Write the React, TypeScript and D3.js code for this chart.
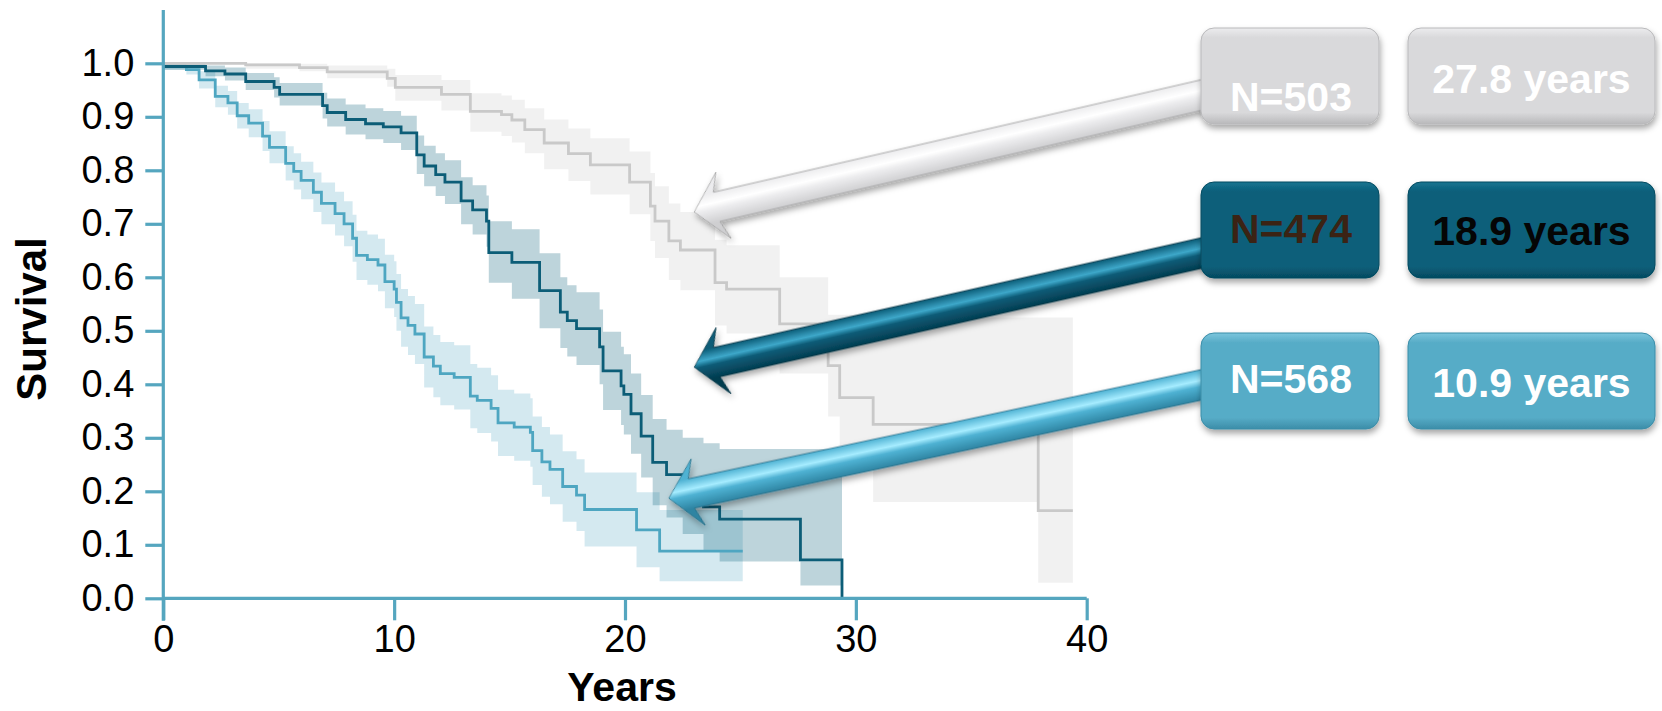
import * as d3 from "d3";
import React, { useEffect, useRef } from "react";

// survival curves (years, survival fraction, 95% band)
const grayTimes = [0, 3.57, 5.9, 7.1, 9.7, 10.05, 12.05, 13.3, 14.65, 15.1, 15.66, 16.5, 17.55, 18.5, 20.2, 21.1, 21.3, 21.9, 22.4, 23.9, 24.4, 26.7, 28.8, 29.3, 30.75, 37.9, 39.4];
const graySurv = [1.0, 0.997, 0.992, 0.984, 0.972, 0.955, 0.942, 0.91, 0.904, 0.894, 0.876, 0.851, 0.831, 0.81, 0.778, 0.733, 0.705, 0.668, 0.651, 0.59, 0.578, 0.513, 0.435, 0.375, 0.325, 0.164, 0.164];
const grayUpper = [1.0, 1.0, 0.999, 0.996, 0.99, 0.978, 0.969, 0.944, 0.94, 0.932, 0.916, 0.895, 0.878, 0.86, 0.835, 0.795, 0.77, 0.738, 0.722, 0.67, 0.66, 0.6, 0.53, 0.53, 0.525, 0.525, 0.525];
const grayLower = [0.998, 0.99, 0.985, 0.972, 0.956, 0.93, 0.912, 0.872, 0.864, 0.852, 0.832, 0.802, 0.78, 0.755, 0.718, 0.668, 0.636, 0.595, 0.576, 0.51, 0.495, 0.42, 0.34, 0.285, 0.18, 0.029, 0.029];

const darkTimes = [0, 1.83, 2.67, 3.57, 4.8, 5.04, 6.9, 7.1, 7.9, 8.76, 9.53, 10.3, 10.98, 11.3, 11.8, 12.2, 12.9, 13.4, 14.0, 14.1, 15.1, 16.3, 17.2, 17.5, 17.9, 18.9, 19.05, 19.83, 19.95, 20.26, 20.7, 21.2, 21.8, 22.5, 23.4, 24.1, 27.6, 29.4];
const darkSurv = [0.994, 0.986, 0.98, 0.966, 0.955, 0.942, 0.921, 0.908, 0.895, 0.887, 0.881, 0.87, 0.829, 0.808, 0.792, 0.778, 0.743, 0.726, 0.705, 0.646, 0.628, 0.575, 0.535, 0.519, 0.504, 0.47, 0.425, 0.397, 0.381, 0.345, 0.303, 0.254, 0.231, 0.2, 0.171, 0.148, 0.072, 0.0];
const darkUpper = [1.0, 0.996, 0.992, 0.982, 0.974, 0.963, 0.945, 0.934, 0.923, 0.916, 0.911, 0.902, 0.865, 0.846, 0.832, 0.819, 0.787, 0.772, 0.753, 0.705, 0.69, 0.645, 0.6, 0.585, 0.572, 0.54, 0.498, 0.47, 0.456, 0.42, 0.38, 0.335, 0.315, 0.3, 0.29, 0.279, 0.279, 0.279];
const darkLower = [0.988, 0.976, 0.968, 0.95, 0.936, 0.921, 0.897, 0.882, 0.867, 0.858, 0.851, 0.838, 0.793, 0.77, 0.752, 0.737, 0.699, 0.68, 0.657, 0.59, 0.56, 0.505, 0.468, 0.452, 0.436, 0.4, 0.352, 0.324, 0.306, 0.27, 0.226, 0.174, 0.151, 0.12, 0.09, 0.069, 0.024, 0.024];

const lightTimes = [0, 1.0, 1.55, 2.25, 2.8, 3.2, 3.7, 4.3, 4.6, 5.3, 5.65, 5.97, 6.5, 6.85, 7.44, 7.83, 8.2, 8.37, 8.84, 9.3, 9.6, 10.0, 10.1, 10.3, 10.6, 10.9, 11.3, 11.7, 12.0, 12.6, 13.3, 13.6, 14.2, 14.5, 15.2, 15.9, 16.0, 16.4, 16.75, 17.3, 17.9, 18.25, 20.5, 21.5, 25.1];
const lightSurv = [0.994, 0.988, 0.969, 0.938, 0.926, 0.902, 0.888, 0.864, 0.843, 0.813, 0.798, 0.781, 0.759, 0.738, 0.719, 0.7, 0.673, 0.641, 0.633, 0.623, 0.592, 0.578, 0.553, 0.524, 0.51, 0.494, 0.451, 0.434, 0.42, 0.413, 0.378, 0.37, 0.355, 0.328, 0.32, 0.31, 0.276, 0.255, 0.241, 0.209, 0.193, 0.166, 0.128, 0.088, 0.088];
const lightUpper = [1.0, 0.997, 0.985, 0.958, 0.948, 0.926, 0.914, 0.892, 0.873, 0.845, 0.832, 0.816, 0.796, 0.777, 0.76, 0.742, 0.717, 0.687, 0.68, 0.672, 0.642, 0.63, 0.606, 0.578, 0.565, 0.55, 0.508, 0.492, 0.479, 0.473, 0.438, 0.431, 0.417, 0.39, 0.383, 0.374, 0.34, 0.32, 0.306, 0.275, 0.26, 0.235, 0.198, 0.165, 0.165];
const lightLower = [0.988, 0.979, 0.953, 0.918, 0.904, 0.878, 0.862, 0.836, 0.813, 0.781, 0.764, 0.746, 0.722, 0.699, 0.678, 0.658, 0.629, 0.595, 0.586, 0.574, 0.542, 0.526, 0.5, 0.47, 0.455, 0.438, 0.394, 0.376, 0.361, 0.353, 0.318, 0.309, 0.293, 0.266, 0.257, 0.246, 0.212, 0.19, 0.176, 0.143, 0.126, 0.097, 0.058, 0.032, 0.032];

const groupLabels = ["N=503", "N=474", "N=568"];
const medianLabels = ["27.8 years", "18.9 years", "10.9 years"];
const xTickValues = [0, 10, 20, 30, 40];
const yTickValues = [0, 0.1, 0.2, 0.3, 0.4, 0.5, 0.6, 0.7, 0.8, 0.9, 1.0];

// where each arrow points to (years, survival)
const arrowTipT = [23.0, 23.0, 21.9];
const arrowTipS = [0.722, 0.432, 0.187];

const font = "'Liberation Sans', Arial, sans-serif";
const axisColor = "#55a6bf";

const series = [
  { times: grayTimes, surv: graySurv, upper: grayUpper, lower: grayLower, line: "#c9c9c9", band: "rgba(200,200,200,0.26)" },
  { times: lightTimes, surv: lightSurv, upper: lightUpper, lower: lightLower, line: "#4ea6c1", band: "rgba(74,163,191,0.24)" },
  { times: darkTimes, surv: darkSurv, upper: darkUpper, lower: darkLower, line: "#0c5d77", band: "rgba(11,95,122,0.27)" },
];

// box and arrow styling for the three groups (gray, dark, light)
const boxStyles = [
  { top: "#ececee", base: "#d9d9db", bottom: "#b9b9bb", nText: "#ffffff", mText: "#ffffff" },
  { top: "#187591", base: "#0a5f7a", bottom: "#054a60", nText: "#3b2314", mText: "#050505" },
  { top: "#7cc6dd", base: "#57acc7", bottom: "#3b8da8", nText: "#ffffff", mText: "#ffffff" },
];
const arrowStyles = [
  { a: "#ececee", hi: "#ffffff", b: "#cfcfd1", edge: "#9a9a9a" },
  { a: "#0a5c77", hi: "#3ea7c9", b: "#053c50", edge: "#043140" },
  { a: "#4fb2d3", hi: "#a6ecff", b: "#2e84a2", edge: "#256d86" },
];
const rowTops = [28, 182, 333];
const tailY = [92, 250, 382];

function App() {
  const width = 1662;
  const height = 711;
  const xAxisRef = useRef(null);
  const yAxisRef = useRef(null);

  const xScale = d3.scaleLinear().domain([0, 40]).range([163.3, 1086.7]);
  const yScale = d3.scaleLinear().domain([0, 1]).range([598.3, 63.3]);

  useEffect(() => {
    const gy = d3.select(yAxisRef.current);
    gy.call(
      d3.axisLeft(yScale).tickValues(yTickValues).tickFormat(d3.format(".1f")).tickSize(18).tickPadding(11)
    );
    gy.select(".domain").remove();
    gy.selectAll("line").attr("stroke", axisColor).attr("stroke-width", 3.2);
    gy.selectAll("text").attr("font-size", 38).attr("font-family", font).attr("fill", "#000");

    const gx = d3.select(xAxisRef.current);
    gx.call(d3.axisBottom(xScale).tickValues(xTickValues).tickSize(22).tickPadding(5));
    gx.select(".domain").remove();
    gx.selectAll("line").attr("stroke", axisColor).attr("stroke-width", 3.2);
    gx.selectAll("text").attr("font-size", 38).attr("font-family", font).attr("fill", "#000");
  }, []);

  const makeLine = (s) =>
    d3
      .line<number>()
      .x((d, i) => xScale(s.times[i]))
      .y((d) => yScale(d))
      .curve(d3.curveStepAfter)(s.surv);

  const makeBand = (s) =>
    d3
      .area<number>()
      .x((d, i) => xScale(s.times[i]))
      .y0((d, i) => yScale(s.lower[i]))
      .y1((d, i) => yScale(s.upper[i]))
      .curve(d3.curveStepAfter)(s.surv);

  const boxX1 = 1201;
  const boxW1 = 178;
  const boxX2 = 1408;
  const boxW2 = 247;
  const boxH = 96;

  return (
    <svg
      width={width}
      height={height}
      style={{ position: "absolute", left: 0, top: 0, background: "#fff" }}
    >
      <defs>
        <filter id="shadow" x="-10%" y="-20%" width="130%" height="160%">
          <feDropShadow dx="1" dy="4" stdDeviation="3" floodColor="#000" floodOpacity="0.35" />
        </filter>
        {boxStyles.map((b, i) => (
          <linearGradient key={"bg" + i} id={"box" + i} x1="0" y1="0" x2="0" y2="1">
            <stop offset="0" stopColor={b.top} />
            <stop offset="0.1" stopColor={b.base} />
            <stop offset="0.88" stopColor={b.base} />
            <stop offset="1" stopColor={b.bottom} />
          </linearGradient>
        ))}
        {arrowStyles.map((a, i) => (
          <linearGradient key={"ag" + i} id={"arrow" + i} gradientUnits="userSpaceOnUse" x1="0" y1="-15" x2="0" y2="15">
            <stop offset="0" stopColor={a.a} />
            <stop offset="0.35" stopColor={a.hi} />
            <stop offset="0.55" stopColor={a.a} />
            <stop offset="1" stopColor={a.b} />
          </linearGradient>
        ))}
      </defs>

      {/* confidence bands */}
      {series.map((s, i) => (
        <path key={"band" + i} d={makeBand(s)} fill={s.band} stroke="none" />
      ))}
      {/* survival curves */}
      {series.map((s, i) => (
        <path key={"line" + i} d={makeLine(s)} fill="none" stroke={s.line} strokeWidth={2.8} />
      ))}

      {/* axes */}
      <line x1={163.3} x2={163.3} y1={10} y2={620.7} stroke={axisColor} strokeWidth={3.2} />
      <line x1={163.3} x2={1086.7} y1={598.3} y2={598.3} stroke={axisColor} strokeWidth={3.2} />
      <g ref={yAxisRef} transform="translate(163.3,0)" />
      <g ref={xAxisRef} transform="translate(0,598.3)" />

      <text x={622} y={701} textAnchor="middle" fontFamily={font} fontWeight="bold" fontSize={41}>
        Years
      </text>
      <text
        transform="translate(46,319) rotate(-90)"
        textAnchor="middle"
        fontFamily={font}
        fontWeight="bold"
        fontSize={42}
      >
        Survival
      </text>

      {/* arrows */}
      {arrowTipT.map((t, i) => {
        const tx = xScale(t);
        const ty = yScale(arrowTipS[i]);
        const ex = boxX1 + 14;
        const ey = tailY[i];
        const len = Math.hypot(ex - tx, ey - ty);
        const ang = (Math.atan2(ey - ty, ex - tx) * 180) / Math.PI;
        const d = `M0,0 L30,-34 L23,-15 L${len},-15 L${len},15 L23,15 L30,34 Z`;
        return (
          <g key={"arr" + i} transform={`translate(${tx},${ty}) rotate(${ang})`} filter="url(#shadow)">
            <path d={d} fill={`url(#arrow${i})`} stroke={arrowStyles[i].edge} strokeWidth={0.8} />
          </g>
        );
      })}

      {/* label boxes */}
      {groupLabels.map((lab, i) => (
        <g key={"box" + i}>
          <rect
            x={boxX1}
            y={rowTops[i]}
            width={boxW1}
            height={boxH}
            rx={13}
            fill={`url(#box${i})`}
            stroke={boxStyles[i].bottom}
            strokeWidth={1}
            filter="url(#shadow)"
          />
          <rect
            x={boxX2}
            y={rowTops[i]}
            width={boxW2}
            height={boxH}
            rx={13}
            fill={`url(#box${i})`}
            stroke={boxStyles[i].bottom}
            strokeWidth={1}
            filter="url(#shadow)"
          />
          <text
            x={boxX1 + boxW1 / 2 + 1}
            y={i === 0 ? 111 : i === 1 ? 243 : 393}
            textAnchor="middle"
            fontFamily={font}
            fontWeight="bold"
            fontSize={41}
            fill={boxStyles[i].nText}
          >
            {lab}
          </text>
          <text
            x={boxX2 + boxW2 / 2}
            y={i === 0 ? 93 : i === 1 ? 245 : 397}
            textAnchor="middle"
            fontFamily={font}
            fontWeight="bold"
            fontSize={41}
            fill={boxStyles[i].mText}
          >
            {medianLabels[i]}
          </text>
        </g>
      ))}
    </svg>
  );
}

export default App;
